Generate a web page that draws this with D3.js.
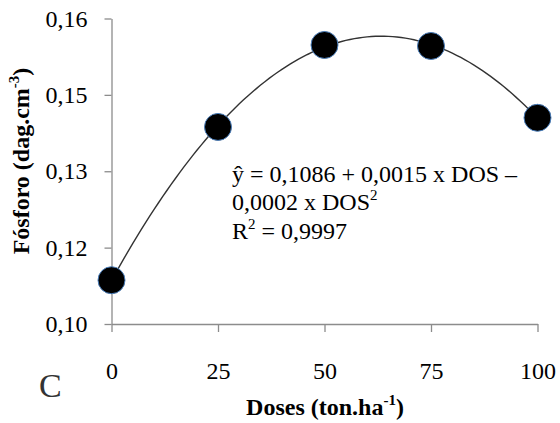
<!DOCTYPE html>
<html>
<head>
<meta charset="utf-8">
<script src="https://cdn.jsdelivr.net/npm/d3@7"></script>
<style>
  body { margin: 0; background: #fff; }
</style>
</head>
<body>
<div id="chart"></div>
<script>
// data
const doses = [0, 25, 50, 75, 100];
const fosforo = [0.1086, 0.1387, 0.1548, 0.1546, 0.1405];
const yTicks = [0.10, 0.115, 0.13, 0.145, 0.16];
const yTickLabels = ["0,10", "0,12", "0,13", "0,15", "0,16"];
const xTicks = [0, 25, 50, 75, 100];

const width = 560, height = 423;
const serif = "Liberation Serif";

const svg = d3.select("#chart").append("svg")
    .attr("width", width)
    .attr("height", height)
    .style("display", "block");

const x = d3.scaleLinear().domain([0, 100]).range([111.5, 537.5]);
const y = d3.scaleLinear().domain([0.10, 0.16]).range([324, 18.5]);

// axes
const yAxis = d3.axisLeft(y)
    .tickValues(yTicks)
    .tickFormat((d, i) => yTickLabels[i])
    .tickSize(7)
    .tickSizeOuter(0)
    .tickPadding(17);

const xAxis = d3.axisBottom(x)
    .tickValues(xTicks)
    .tickSize(8)
    .tickSizeOuter(0);

const gy = svg.append("g")
    .attr("transform", `translate(${x(0)},0)`)
    .call(yAxis);

const gx = svg.append("g")
    .attr("transform", `translate(0,${y(0.10)})`)
    .call(xAxis);

[gx, gy].forEach(g => {
    g.attr("font-family", null).attr("font-size", null);
    g.selectAll("path, line").attr("stroke", "#8c8c8c").attr("stroke-width", 1.3);
    g.selectAll("text")
        .attr("fill", "#000")
        .style("font-family", serif)
        .style("font-size", "24px");
});
gx.selectAll("text").attr("y", 55).attr("dy", null);

// quadratic trend line, least squares through the points
const fit = (() => {
    let n = doses.length, sx = 0, sx2 = 0, sx3 = 0, sx4 = 0, sy = 0, sxy = 0, sx2y = 0;
    doses.forEach((d, i) => {
        const v = fosforo[i];
        sx += d; sx2 += d * d; sx3 += d ** 3; sx4 += d ** 4;
        sy += v; sxy += d * v; sx2y += d * d * v;
    });
    const A = [[n, sx, sx2, sy], [sx, sx2, sx3, sxy], [sx2, sx3, sx4, sx2y]];
    for (let i = 0; i < 3; i++) {
        for (let k = i + 1; k < 3; k++) {
            const f = A[k][i] / A[i][i];
            for (let j = i; j < 4; j++) A[k][j] -= f * A[i][j];
        }
    }
    const c = [0, 0, 0];
    for (let i = 2; i >= 0; i--) {
        let s = A[i][3];
        for (let j = i + 1; j < 3; j++) s -= A[i][j] * c[j];
        c[i] = s / A[i][i];
    }
    return c;
})();

const curveX = d3.range(0, 100.5, 1);
const line = d3.line()
    .x(d => x(d))
    .y(d => y(fit[0] + fit[1] * d + fit[2] * d * d));

svg.append("path")
    .datum(curveX)
    .attr("d", line)
    .attr("fill", "none")
    .attr("stroke", "#333")
    .attr("stroke-width", 1.4);

svg.selectAll("circle.pt")
    .data(doses)
    .join("circle")
    .attr("class", "pt")
    .attr("cx", d => x(d))
    .attr("cy", (d, i) => y(fosforo[i]))
    .attr("r", 13.5)
    .attr("fill", "#000")
    .attr("stroke", "#4a7ebb")
    .attr("stroke-width", 1);

// equation
const eq = svg.append("text")
    .attr("x", 232)
    .attr("fill", "#000")
    .style("font-family", serif)
    .style("font-size", "24px");
eq.append("tspan").attr("x", 232).attr("y", 182).text("ŷ = 0,1086 + 0,0015 x DOS –");
eq.append("tspan").attr("x", 232).attr("y", 210).text("0,0002 x DOS");
eq.append("tspan").attr("dy", -10).style("font-size", "15px").text("2");
eq.append("tspan").attr("x", 232).attr("y", 239).text("R");
eq.append("tspan").attr("dy", -10).style("font-size", "15px").text("2");
eq.append("tspan").attr("dy", 10).text(" = 0,9997");

// axis titles
const xt = svg.append("text")
    .attr("x", 325)
    .attr("y", 415)
    .attr("text-anchor", "middle")
    .style("font-family", serif)
    .style("font-size", "24px")
    .style("font-weight", "bold");
xt.append("tspan").text("Doses (ton.ha");
xt.append("tspan").attr("dy", -10).style("font-size", "15px").text("-1");
xt.append("tspan").attr("dy", 10).text(")");

const yt = svg.append("text")
    .attr("transform", "translate(29,161) rotate(-90)")
    .attr("text-anchor", "middle")
    .style("font-family", serif)
    .style("font-size", "24px")
    .style("font-weight", "bold");
yt.append("tspan").text("Fósforo (dag.cm");
yt.append("tspan").attr("dy", -10).style("font-size", "15px").text("-3");
yt.append("tspan").attr("dy", 10).text(")");

// panel letter
svg.append("text")
    .attr("x", 39)
    .attr("y", 397)
    .attr("fill", "#333")
    .style("font-family", serif)
    .style("font-size", "34px")
    .text("C");
</script>
</body>
</html>
